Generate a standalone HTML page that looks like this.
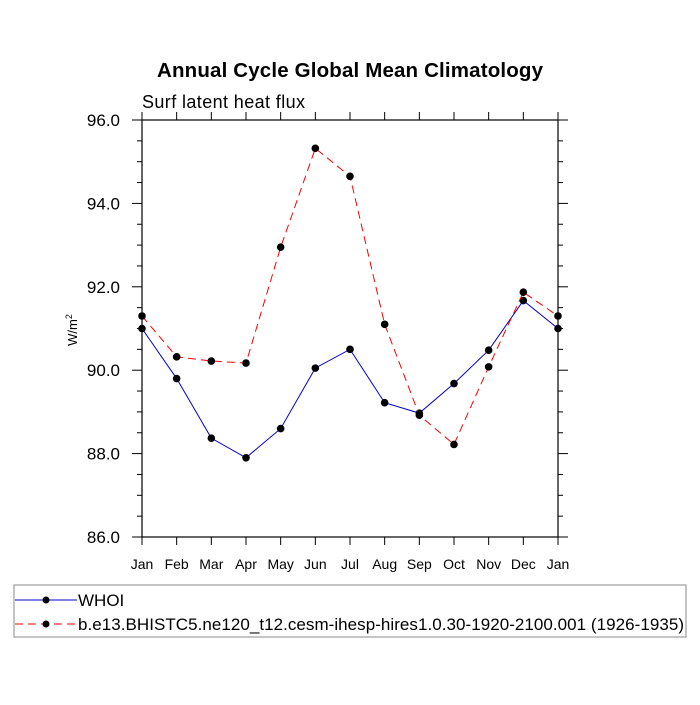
<!DOCTYPE html>
<html><head><meta charset="utf-8"><style>
body{margin:0;background:#fff;font-family:"Liberation Sans",Arial,sans-serif}
</style></head><body>
<svg width="700" height="700" xmlns="http://www.w3.org/2000/svg" font-family="Liberation Sans, Arial, sans-serif">
<text x="350" y="77" text-anchor="middle" font-size="20.5" font-weight="bold" textLength="386">Annual Cycle Global Mean Climatology</text>
<text x="142" y="108" font-size="18" textLength="163">Surf latent heat flux</text>
<text transform="translate(77,330) rotate(-90)" text-anchor="middle" font-size="13">W/m<tspan dy="-5" font-size="9">2</tspan></text>
<g id="axes"></g>
<g id="series"></g>
<g>
<rect x="14" y="585" width="672" height="52" fill="none" stroke="#888"/>
<g>
<line x1="15" y1="600" x2="77" y2="600" stroke="#0000cc" stroke-width="1"/>
<circle cx="46" cy="600" r="3.5" fill="#000"/>
<text x="78" y="606" font-size="17">WHOI</text></g>
<g>
<line x1="15" y1="624" x2="77" y2="624" stroke="#ff0000" stroke-width="1" stroke-dasharray="8,5"/>
<circle cx="46" cy="624" r="3.5" fill="#000"/>
<text x="78" y="630" font-size="17" textLength="606">b.e13.BHISTC5.ne120_t12.cesm-ihesp-hires1.0.30-1920-2100.001 (1926-1935)</text></g>
</g>
</svg>
<script>
const months=["Jan","Feb","Mar","Apr","May","Jun","Jul","Aug","Sep","Oct","Nov","Dec","Jan"];
const whoi=[91.0,89.8,88.37,87.9,88.6,90.05,90.5,89.22,88.97,89.68,90.48,91.67,91.0];
const model=[91.3,90.32,90.22,90.17,92.95,95.32,94.65,91.1,88.92,88.22,90.08,91.87,91.3];
const yTicks=[86,88,90,92,94,96];
const NS="http://www.w3.org/2000/svg";
const L=142,R=558,T=120,B=537,ymin=86,ymax=96;
const xs=i=>L+i*(R-L)/(months.length-1);
const ys=v=>B-(v-ymin)/(ymax-ymin)*(B-T);
function mk(tag,at,parent){const e=document.createElementNS(NS,tag);for(const k in at)e.setAttribute(k,at[k]);parent.appendChild(e);return e;}
const ax=document.getElementById('axes');
const frame=mk('rect',{x:L,y:T,width:R-L,height:B-T,fill:'none',stroke:'#000','stroke-width':1.2},ax);


for(let v=ymin;v<=ymax+1e-9;v+=0.5){
  const major=Math.abs(v/2-Math.round(v/2))<1e-6;const len=major?10:5;const y=ys(v);
  mk('line',{x1:L-len,y1:y,x2:L,y2:y,stroke:'#000'},ax);
  mk('line',{x1:R,y1:y,x2:R+len,y2:y,stroke:'#000'},ax);
}
yTicks.forEach(v=>{const t=mk('text',{x:L-22,y:ys(v)+6,'text-anchor':'end','font-size':17},ax);t.textContent=v.toFixed(1);

});
months.forEach((m,i)=>{const x=xs(i);
  mk('line',{x1:x,y1:B,x2:x,y2:B+8,stroke:'#000'},ax);
  mk('line',{x1:x,y1:T-8,x2:x,y2:T,stroke:'#000'},ax);
  const t=mk('text',{x:x,y:B+32,'text-anchor':'middle','font-size':14},ax);t.textContent=m;
  
  });
const sg=document.getElementById('series');
function series(vals,color,dash,name){
  const g=mk('g',{},sg);
  
  
  mk('polyline',{points:vals.map((v,i)=>xs(i)+','+ys(v)).join(' '),fill:'none',stroke:color,'stroke-width':1,'stroke-dasharray':dash},g);
  vals.forEach((v,i)=>{const c=mk('circle',{cx:xs(i),cy:ys(v),r:3.8,fill:'#000'},g);
    
    });
}
series(whoi,'#0000cc','none','whoi-series');
series(model,'#ff0000','8,5','model-series');
</script>
</body></html>
